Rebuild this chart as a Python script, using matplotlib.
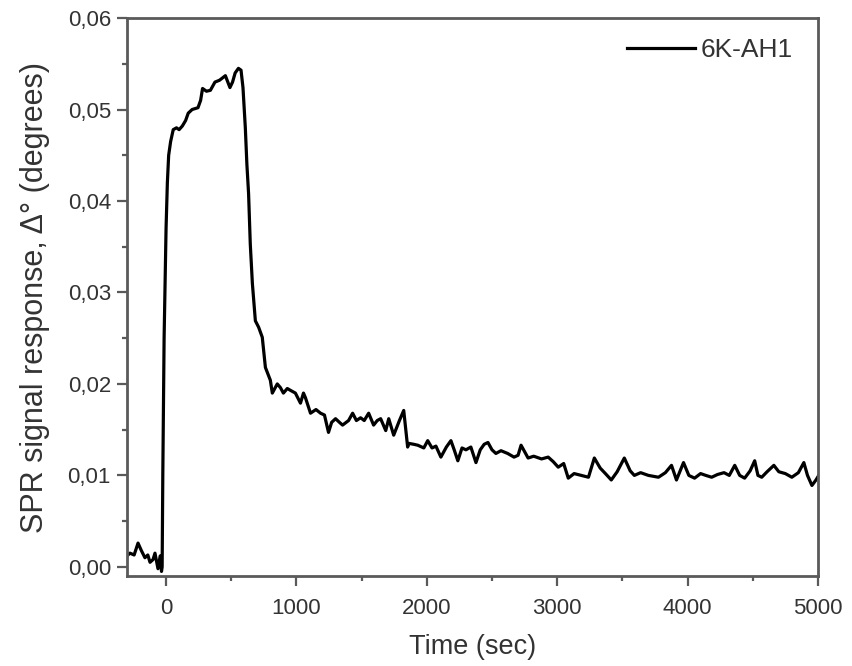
import matplotlib
matplotlib.use("Agg")
import matplotlib.pyplot as plt
from matplotlib.ticker import MultipleLocator, FuncFormatter

plt.rcParams['font.family'] = ['Liberation Sans', 'DejaVu Sans']

time_s = [-300, -277, -245, -215, -190, -162, -140, -123, -100, -85, -62, -45, -35, -30,
          -25, -15, 0, 10, 20, 35, 55, 80, 100, 125, 150, 170, 200, 245, 265, 280, 310,
          340, 375, 410, 455, 490, 510, 530, 555, 575, 590, 608, 620, 633, 646, 662, 685,
          710, 738, 762, 800, 815, 853, 877, 900, 930, 954, 992, 1031, 1054, 1069, 1108,
          1150, 1185, 1215, 1246, 1270, 1300, 1330, 1354, 1400, 1431, 1460, 1492, 1520,
          1554, 1592, 1620, 1646, 1685, 1708, 1746, 1790, 1823, 1853, 1862, 1900, 1931,
          1977, 2007, 2040, 2070, 2108, 2150, 2185, 2210, 2238, 2270, 2300, 2338, 2377,
          2410, 2440, 2469, 2500, 2530, 2569, 2620, 2669, 2700, 2723, 2777, 2820, 2880,
          2931, 2970, 3008, 3050, 3085, 3130, 3185, 3240, 3285, 3330, 3370, 3415, 3460,
          3515, 3560, 3592, 3640, 3700, 3740, 3777, 3830, 3877, 3915, 3969, 4010, 4054,
          4100, 4140, 4185, 4230, 4280, 4320, 4362, 4400, 4438, 4480, 4515, 4540, 4569,
          4610, 4662, 4700, 4750, 4800, 4850, 4892, 4920, 4954, 4985, 5015]
response = [0.0012, 0.0015, 0.0013, 0.0026, 0.0018, 0.0010, 0.0013, 0.0005, 0.0008, 0.0015,
            -0.0002, 0.0012, -0.0005, 0.0000, 0.0100, 0.0250, 0.0370, 0.0420, 0.0450, 0.0465,
            0.0478, 0.0480, 0.0478, 0.0482, 0.0488, 0.0496, 0.0500, 0.0502, 0.0510, 0.0523,
            0.0520, 0.0521, 0.0530, 0.0532, 0.0537, 0.0524, 0.0530, 0.0540, 0.0545, 0.0543,
            0.0524, 0.0480, 0.0440, 0.0408, 0.0353, 0.0310, 0.0269, 0.0262, 0.0251, 0.0218,
            0.0204, 0.0190, 0.0200, 0.0196, 0.0190, 0.0195, 0.0193, 0.0190, 0.0179, 0.0190,
            0.0185, 0.0168, 0.0172, 0.0168, 0.0166, 0.0147, 0.0158, 0.0162, 0.0158, 0.0155,
            0.0160, 0.0168, 0.0160, 0.0163, 0.0160, 0.0168, 0.0155, 0.0160, 0.0162, 0.0149,
            0.0162, 0.0144, 0.0160, 0.0171, 0.0131, 0.0135, 0.0134, 0.0133, 0.0130, 0.0138,
            0.0130, 0.0132, 0.0120, 0.0131, 0.0138, 0.0128, 0.0116, 0.0130, 0.0128, 0.0131,
            0.0114, 0.0128, 0.0134, 0.0136, 0.0128, 0.0124, 0.0127, 0.0124, 0.0120, 0.0122,
            0.0133, 0.0119, 0.0121, 0.0118, 0.0120, 0.0115, 0.0109, 0.0113, 0.0097, 0.0102,
            0.0100, 0.0098, 0.0119, 0.0108, 0.0102, 0.0095, 0.0104, 0.0119, 0.0105, 0.0100,
            0.0103, 0.0100, 0.0099, 0.0098, 0.0103, 0.0111, 0.0095, 0.0114, 0.0100, 0.0097,
            0.0102, 0.0100, 0.0098, 0.0101, 0.0103, 0.0100, 0.0111, 0.0100, 0.0097, 0.0105,
            0.0116, 0.0100, 0.0098, 0.0104, 0.0111, 0.0104, 0.0102, 0.0098, 0.0103, 0.0114,
            0.0100, 0.0089, 0.0095, 0.0102]

fig = plt.figure(figsize=(8.52, 6.66), dpi=100)
ax = fig.add_axes([0.149, 0.1351, 0.811, 0.8378])
ax.plot(time_s, response, color='black', lw=2.3, label='6K-AH1', solid_joinstyle='round')

ax.set_xlim(-300, 5000)
ax.set_ylim(-0.001, 0.06)
ax.xaxis.set_major_locator(MultipleLocator(1000))
ax.xaxis.set_minor_locator(MultipleLocator(500))
ax.yaxis.set_major_locator(MultipleLocator(0.01))
ax.yaxis.set_minor_locator(MultipleLocator(0.005))
ax.yaxis.set_major_formatter(FuncFormatter(lambda v, p: f"{v:.2f}".replace('.', ',')))

spine_col = '#5a5a5a'
for s in ax.spines.values():
    s.set_color(spine_col)
    s.set_linewidth(2.0)
ax.tick_params(which='both', direction='out', color=spine_col, width=1.6,
               top=False, right=False, labelsize=16, labelcolor='#333333')
ax.tick_params(which='major', length=7.5)
ax.tick_params(which='minor', length=3.5)
ax.tick_params(axis='x', which='major', pad=8)
ax.tick_params(axis='y', which='major', pad=4)

ax.set_xlabel('Time (sec)', fontsize=19.5, color='#333333', va='center')
ax.xaxis.set_label_coords(0.5, -0.128)
ax.set_ylabel('SPR signal response, Δ° (degrees)', fontsize=22, color='#333333', va='center')
ax.yaxis.set_label_coords(-0.133, 0.5)

leg = ax.legend(loc='upper right', frameon=False, fontsize=19, handlelength=2.6,
                handletextpad=0.2, borderaxespad=0.55, bbox_to_anchor=(1.0, 1.009))
for t in leg.get_texts():
    t.set_color('#333333')
for h in leg.get_lines():
    h.set_linewidth(2.3)

fig.savefig('out.png', dpi=100)
